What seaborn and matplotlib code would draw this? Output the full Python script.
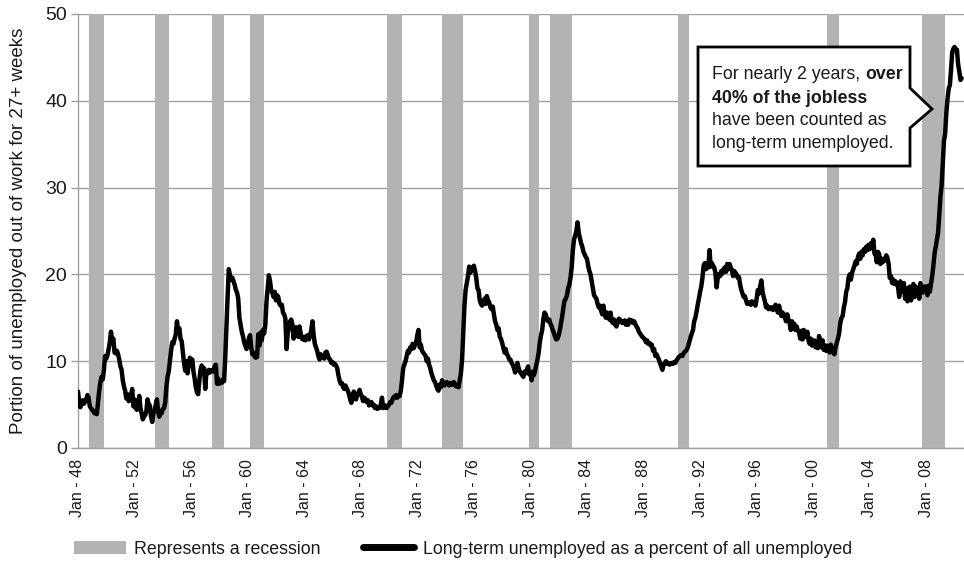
import numpy as np
import pandas as pd
import matplotlib
matplotlib.use("Agg")
import matplotlib.pyplot as plt
from matplotlib.patches import Patch, Polygon
from matplotlib.lines import Line2D
import seaborn as sns

# Monthly share of the unemployed who were out of work 27+ weeks,
# starting Jan 1948
share_1948_1957 = [
    6.5, 5.3, 4.7, 5.0, 5.5, 5.1, 5.3, 5.6, 6.1, 5.8, 4.8, 4.6,
    4.4, 4.3, 4.0, 4.2, 3.9, 5.2, 6.6, 7.6, 8.2, 7.9, 9.0, 10.6,
    10.3, 10.7, 11.4, 12.2, 13.4, 12.3, 12.6, 11.0, 10.9, 11.2, 10.8, 10.2,
    9.4, 9.0, 7.8, 7.1, 6.6, 5.7, 6.2, 5.4, 5.5, 6.0, 6.8, 4.8,
    5.6, 4.6, 4.4, 5.0, 6.0, 4.6, 4.0, 3.3, 3.6, 3.8, 4.2, 5.6,
    5.0, 4.9, 3.6, 3.0, 4.0, 4.3, 5.0, 5.6, 4.2, 3.6, 4.2, 4.0,
    4.5, 4.6, 5.2, 7.0, 8.2, 8.8, 10.0, 11.2, 12.2, 12.0, 12.6, 13.1,
    14.6, 13.4, 13.8, 12.6, 12.3, 11.0, 9.8, 8.9, 10.0, 8.6, 9.6, 10.4,
    10.0, 10.2, 8.8, 8.0, 7.0, 6.4, 6.2, 7.8, 9.0, 9.5, 8.9, 9.2,
    6.8, 8.8, 8.6, 9.0, 8.7, 8.9, 9.0, 8.8, 9.4, 9.6, 7.4, 8.0,
]
share_1958_1967 = [
    7.4, 7.6, 7.5, 7.9, 7.7, 10.5, 14.0, 17.5, 20.6, 19.9, 19.4, 19.6,
    19.2, 18.8, 18.2, 17.9, 17.2, 15.0, 14.2, 13.4, 12.9, 12.2, 11.8, 11.4,
    12.0, 12.6, 13.0, 11.6, 10.8, 11.0, 10.5, 10.4, 10.5, 13.1, 11.8, 13.3,
    12.4, 13.6, 13.2, 14.2, 16.9, 18.4, 19.9, 19.2, 18.1, 17.9, 17.4, 18.0,
    17.0, 17.6, 17.4, 16.6, 16.4, 16.5, 15.6, 15.4, 14.9, 11.4, 13.2, 14.0,
    14.6, 14.8, 14.2, 12.6, 13.4, 13.9, 13.0, 12.8, 14.0, 13.2, 12.6, 12.5,
    12.8, 12.4, 12.9, 13.0, 12.5, 13.0, 13.6, 14.6, 13.0, 12.0, 11.6, 11.2,
    10.6, 10.2, 10.8, 10.4, 10.6, 10.3, 11.0, 11.1, 10.7, 10.3, 10.2, 9.8,
    9.9, 9.6, 9.7, 9.5, 9.2, 8.4, 7.8, 7.4, 7.5, 7.0, 6.8, 7.2,
    6.9, 6.6, 6.2, 5.6, 5.2, 5.8, 6.5, 6.0, 5.6, 6.1, 6.4, 6.7,
]
share_1968_1977 = [
    6.2, 5.9, 5.4, 5.8, 5.6, 5.3, 5.5, 4.9, 5.1, 5.3, 4.9, 5.0,
    4.6, 4.8, 4.5, 4.7, 4.6, 5.0, 5.8, 4.6, 4.7, 4.9, 4.6, 4.8,
    5.0, 5.3, 5.2, 5.6, 5.9, 5.8, 6.1, 5.8, 6.0, 6.0, 6.6, 7.8,
    9.2, 9.6, 10.0, 10.6, 11.2, 11.0, 11.6, 11.4, 12.0, 11.5, 11.9, 12.2,
    13.0, 13.6, 11.6, 11.9, 11.2, 11.0, 10.8, 10.6, 10.0, 10.3, 9.6, 9.2,
    8.6, 8.2, 7.8, 7.6, 7.2, 6.8, 6.6, 7.3, 7.0, 7.8, 7.4, 7.2,
    7.4, 7.6, 7.4, 7.2, 7.5, 7.3, 7.4, 7.6, 7.2, 7.1, 7.3, 7.0,
    7.8, 8.6, 10.2, 13.2, 16.4, 18.2, 19.0, 19.8, 20.9, 20.2, 20.6, 20.8,
    21.0, 20.4, 19.6, 18.4, 18.2, 17.0, 16.6, 16.4, 16.8, 17.2, 16.6, 17.5,
    17.0, 16.8, 16.2, 16.0, 16.3, 15.4, 14.6, 14.2, 13.6, 13.8, 12.8, 12.6,
]
share_1978_1987 = [
    12.1, 11.6, 11.0, 11.4, 10.8, 10.6, 10.2, 10.2, 9.8, 9.6, 9.2, 8.7,
    9.0, 9.8, 9.2, 8.8, 8.6, 8.4, 8.2, 8.8, 8.6, 9.0, 9.4, 8.5,
    8.6, 7.8, 8.8, 8.4, 8.9, 9.6, 10.2, 11.0, 12.2, 13.0, 13.6, 14.9,
    15.6, 15.4, 14.8, 14.6, 14.8, 14.3, 14.0, 13.6, 13.2, 12.8, 12.5, 12.6,
    13.0, 13.6, 14.4, 15.2, 16.2, 17.0, 17.2, 17.6, 18.4, 18.8, 19.6, 20.8,
    22.8, 24.0, 24.5, 25.0, 26.0, 24.8, 24.2, 23.6, 23.2, 22.6, 22.3, 22.0,
    21.8, 21.0, 20.4, 20.0, 19.2, 18.4, 17.6, 17.4, 17.2, 16.6, 16.2, 16.4,
    15.8, 15.4, 16.4, 15.4, 15.0, 15.6, 15.2, 14.8, 15.6, 14.6, 14.4, 14.8,
    14.2, 14.0, 14.4, 14.9, 14.8, 14.6, 14.4, 14.5, 14.7, 14.2, 14.6, 14.2,
    14.8, 14.6, 14.7, 14.4, 14.6, 14.3, 14.0, 13.8, 13.4, 13.2, 13.0, 12.8,
]
share_1988_1997 = [
    12.7, 12.5, 12.2, 12.4, 12.0, 12.1, 11.8, 11.9, 11.2, 11.4, 10.6, 10.8,
    10.5, 10.2, 9.8, 9.4, 9.0, 9.6, 9.8, 10.0, 9.7, 9.8, 9.6, 9.7,
    9.8, 9.7, 9.9, 9.8, 10.1, 10.3, 10.5, 10.6, 10.7, 10.6, 10.9, 11.1,
    11.2, 11.4, 11.8, 12.3, 12.8, 13.2, 13.6, 14.6, 15.0, 15.7, 16.5, 17.2,
    18.0, 18.6, 19.6, 21.0, 21.3, 20.6, 21.2, 20.8, 22.8, 20.9, 21.3, 21.0,
    20.8, 20.2, 18.5, 19.6, 20.0, 19.8, 20.4, 20.1, 20.6, 20.8, 20.3, 21.2,
    20.6, 21.2, 20.8, 20.5, 19.8, 20.4, 20.2, 20.0, 19.6, 19.7, 18.8, 18.2,
    17.8, 17.4, 17.5, 17.0, 16.6, 16.8, 16.7, 16.5, 16.9, 16.6, 16.8, 16.4,
    17.2, 18.2, 17.8, 18.6, 19.3, 18.0, 17.4, 16.9, 16.2, 16.4, 16.0, 16.2,
    16.0, 16.2, 15.9, 16.1, 16.5, 16.3, 15.6, 16.4, 15.8, 15.2, 15.6, 15.4,
]
share_1998_2010 = [
    15.0, 14.6, 15.4, 14.8, 14.4, 13.6, 14.6, 13.8, 14.3, 13.6, 14.0, 13.5,
    13.4, 12.6, 13.5, 12.5, 13.6, 12.8, 12.9, 13.4, 12.4, 12.0, 12.6, 11.8,
    11.9, 12.4, 11.6, 11.8, 11.5, 12.9, 12.2, 11.6, 12.4, 11.3, 11.8, 11.2,
    11.8, 11.6, 11.0, 11.9, 11.2, 11.0, 10.8, 11.6, 12.1, 12.6, 13.2, 14.4,
    15.0, 15.2, 16.2, 16.8, 18.0, 18.4, 19.6, 20.0, 19.4, 20.2, 20.6, 21.0,
    21.5, 21.2, 22.0, 22.4, 21.8, 22.6, 22.2, 22.9, 22.6, 23.2, 22.8, 23.4,
    22.9, 23.6, 23.3, 24.0, 22.4, 22.3, 21.4, 22.6, 22.3, 21.2, 21.8, 21.4,
    21.8, 21.6, 22.2, 21.9, 21.2, 19.6, 19.8, 19.0, 19.4, 18.9, 19.2, 18.8,
    18.6, 17.4, 19.2, 18.2, 18.0, 19.0, 17.2, 18.4, 16.9, 17.4, 18.6, 17.0,
    17.6, 18.9, 17.4, 18.6, 17.6, 18.4, 17.2, 19.0, 18.2, 17.9, 18.6, 18.2,
    18.6, 17.6, 18.7, 18.0, 18.9, 19.8, 21.0, 22.4, 23.2, 24.0, 24.8, 26.8,
    29.0, 30.2, 32.8, 35.4, 36.2, 38.6, 40.2, 41.4, 41.8, 43.6, 45.6, 46.0,
    46.2, 45.8, 45.9, 44.2, 43.4, 42.4, 42.6,
]
share = (share_1948_1957 + share_1958_1967 + share_1968_1977
         + share_1978_1987 + share_1988_1997 + share_1998_2010)
first_year = 1948

# recession shading, first and last shaded month
recession_start = ["1948-10", "1953-06", "1957-07", "1960-03", "1969-11", "1973-10",
                   "1979-12", "1981-06", "1990-06", "2001-01", "2007-09"]
recession_end = ["1949-10", "1954-05", "1958-04", "1961-02", "1970-11", "1975-03",
                 "1980-07", "1982-11", "1991-03", "2001-10", "2009-04"]

tick_years = list(range(1948, 2009, 4))
tick_labels = ["Jan - %02d" % (y % 100) for y in tick_years]
y_ticks = [0, 10, 20, 30, 40, 50]


def month_index(s):
    y, m = s.split("-")
    return (int(y) - first_year) * 12 + int(m) - 1


df = pd.DataFrame({"month": np.arange(len(share)), "share": share})

sns.set_theme(style="white")
plt.rcParams["font.family"] = ["Liberation Sans", "DejaVu Sans"]
plt.rcParams["text.color"] = "#1a1a1a"

W, H = 964, 561
fig = plt.figure(figsize=(W / 100, H / 100), dpi=100)
ax = fig.add_axes([78 / W, 1 - 448 / H, (W - 78) / W, (448 - 14) / H])

gray = "#b3b3b3"
for s, e in zip(recession_start, recession_end):
    ax.axvspan(month_index(s), month_index(e) + 1, color=gray, lw=0, zorder=1)

sns.lineplot(data=df, x="month", y="share", color="black", lw=3.2,
             solid_joinstyle="round", ax=ax, zorder=3)

ax.set_xlim(0, 752)
ax.set_ylim(0, 50)
ax.set_yticks(y_ticks)
ax.set_xticks([(y - first_year) * 12 for y in tick_years])
ax.set_xticklabels(tick_labels, rotation=90)
ax.tick_params(axis="y", left=True, length=5, width=1, color="#a0a0a0",
               labelsize=14, pad=3, labelcolor="#1a1a1a")
ax.tick_params(axis="x", length=0, labelsize=11.5, pad=8, labelcolor="#1a1a1a")
ax.grid(axis="y", color="#a0a0a0", lw=1)
ax.set_axisbelow(True)
for side in ["top", "right"]:
    ax.spines[side].set_visible(False)
for side in ["left", "bottom"]:
    ax.spines[side].set_color("#a0a0a0")
    ax.spines[side].set_linewidth(1)
ax.set_xlabel("")
ax.set_ylabel("Portion of unemployed out of work for 27+ weeks", fontsize=13.5,
              color="#1a1a1a")
ax.yaxis.set_label_coords(-0.057, 0.5)


def fx(px):
    return px / W


def fy(py):
    return 1 - py / H


# callout box with pointer
box = [(698, 47), (910, 47), (910, 88), (932, 109), (910, 128), (910, 166), (698, 166)]
ax.add_patch(Polygon([(fx(x), fy(y)) for x, y in box], closed=True, fc="white",
                     ec="black", lw=2, transform=fig.transFigure, clip_on=False,
                     zorder=6, joinstyle="miter"))
fs = 12.8
t1 = ax.text(fx(712), fy(79.3), "For nearly 2 years,", fontsize=fs, va="baseline",
             transform=fig.transFigure, zorder=7)
ax.annotate("over", xy=(1, 0), xycoords=t1, xytext=(0.278 * fs, 0),
            textcoords="offset points", fontsize=fs, fontweight="bold",
            va="bottom", ha="left", zorder=7, annotation_clip=False)
ax.text(fx(712), fy(102.7), "40% of the jobless", fontsize=fs, fontweight="bold",
        va="baseline", transform=fig.transFigure, zorder=7)
ax.text(fx(712), fy(125.2), "have been counted as", fontsize=fs, va="baseline",
        transform=fig.transFigure, zorder=7)
ax.text(fx(712), fy(147.5), "long-term unemployed.", fontsize=fs, va="baseline",
        transform=fig.transFigure, zorder=7)

handles = [Patch(facecolor=gray, edgecolor="none"),
           Line2D([], [], color="black", lw=5, solid_capstyle="round")]
labels = ["Represents a recession", "Long-term unemployed as a percent of all unemployed"]
fig.legend(handles, labels, loc="center left", bbox_to_anchor=(fx(74), fy(549)),
           ncol=2, frameon=False, fontsize=12.8, handlelength=2.9, handleheight=0.8,
           handletextpad=0.5, columnspacing=2.35, borderpad=0, borderaxespad=0)

fig.savefig("out.png", dpi=100)
